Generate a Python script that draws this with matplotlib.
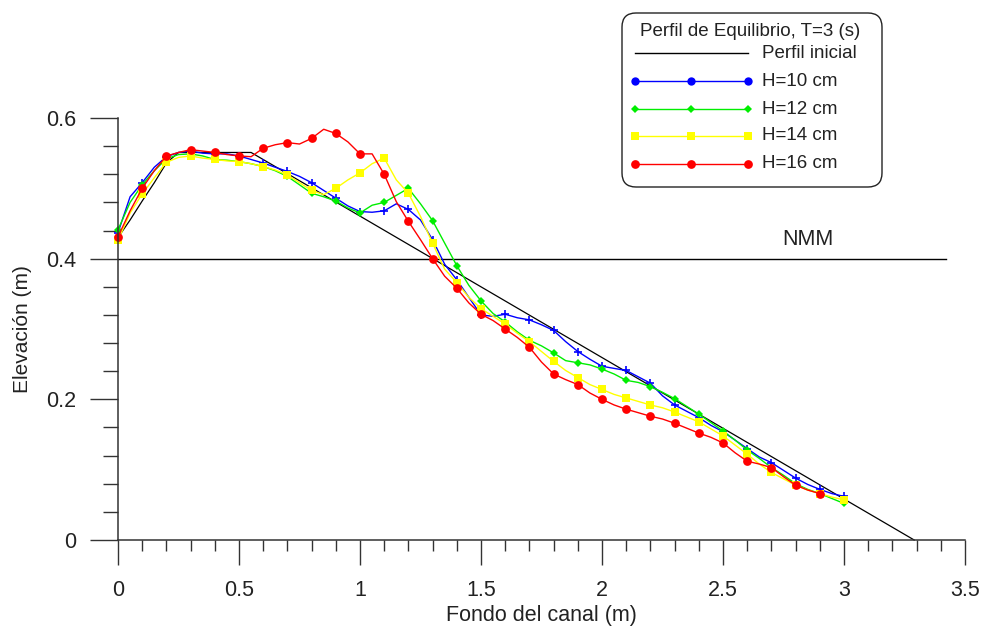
import matplotlib
matplotlib.use("Agg")
import matplotlib.pyplot as plt
from matplotlib.patches import FancyBboxPatch
from matplotlib.ticker import MultipleLocator, FixedLocator

plt.rcParams['font.family'] = ['Liberation Sans', 'DejaVu Sans']

# ---- data -------------------------------------------------------------
# initial beach profile
x_inicial = [0.0, 0.05, 0.10, 0.15, 0.20, 0.25, 0.55, 3.29]
y_inicial = [0.430, 0.455, 0.482, 0.508, 0.536, 0.551, 0.551, 0.0]

# still water level
nmm_level = 0.40
nmm_extent = [0.0, 3.42]

# measured equilibrium profiles (every 0.05 m)
x_h10 = [0.00, 0.05, 0.10, 0.15, 0.20, 0.25, 0.30, 0.35, 0.40, 0.45,
         0.50, 0.55, 0.60, 0.65, 0.70, 0.75, 0.80, 0.85, 0.90, 0.95,
         1.00, 1.05, 1.10, 1.15, 1.20, 1.25, 1.30, 1.35, 1.40, 1.45,
         1.50, 1.55, 1.60, 1.65, 1.70, 1.75, 1.80, 1.85, 1.90, 1.95,
         2.00, 2.05, 2.10, 2.15, 2.20, 2.25, 2.30, 2.35, 2.40, 2.45,
         2.50, 2.55, 2.60, 2.65, 2.70, 2.75, 2.80, 2.85, 2.90, 2.95, 3.00]
y_h10 = [0.437, 0.488, 0.508, 0.530, 0.545, 0.551, 0.553, 0.550, 0.549, 0.549,
         0.546, 0.541, 0.536, 0.530, 0.524, 0.517, 0.508, 0.497, 0.486, 0.475,
         0.467, 0.466, 0.468, 0.478, 0.470, 0.455, 0.427, 0.392, 0.370, 0.345,
         0.320, 0.318, 0.321, 0.316, 0.313, 0.306, 0.298, 0.282, 0.268, 0.257,
         0.247, 0.244, 0.241, 0.232, 0.223, 0.205, 0.192, 0.183, 0.174, 0.163,
         0.154, 0.142, 0.130, 0.118, 0.110, 0.099, 0.088, 0.079, 0.072, 0.066, 0.062]

x_h12 = list(x_h10)
y_h12 = [0.441, 0.480, 0.505, 0.525, 0.542, 0.548, 0.549, 0.546, 0.541, 0.540,
         0.538, 0.535, 0.531, 0.525, 0.517, 0.505, 0.493, 0.488, 0.482, 0.472,
         0.465, 0.476, 0.480, 0.490, 0.500, 0.478, 0.454, 0.422, 0.390, 0.362,
         0.340, 0.322, 0.310, 0.296, 0.284, 0.276, 0.266, 0.255, 0.252, 0.249,
         0.243, 0.236, 0.227, 0.224, 0.218, 0.210, 0.201, 0.190, 0.179, 0.167,
         0.155, 0.142, 0.128, 0.116, 0.103, 0.092, 0.080, 0.072, 0.066, 0.059, 0.052]

x_h14 = list(x_h10)
y_h14 = [0.426, 0.465, 0.492, 0.515, 0.537, 0.544, 0.546, 0.543, 0.541, 0.539,
         0.538, 0.535, 0.531, 0.526, 0.519, 0.508, 0.497, 0.491, 0.500, 0.512,
         0.522, 0.535, 0.543, 0.512, 0.493, 0.460, 0.422, 0.385, 0.366, 0.345,
         0.329, 0.318, 0.307, 0.294, 0.282, 0.268, 0.254, 0.241, 0.231, 0.221,
         0.214, 0.207, 0.202, 0.197, 0.192, 0.188, 0.182, 0.175, 0.168, 0.158,
         0.148, 0.135, 0.122, 0.108, 0.096, 0.087, 0.078, 0.071, 0.066, 0.061, 0.057]

x_h16 = x_h10[:59]
y_h16 = [0.431, 0.468, 0.500, 0.525, 0.546, 0.551, 0.555, 0.553, 0.551, 0.548,
         0.546, 0.545, 0.557, 0.562, 0.565, 0.563, 0.571, 0.584, 0.578, 0.566,
         0.549, 0.549, 0.520, 0.481, 0.453, 0.427, 0.400, 0.375, 0.358, 0.337,
         0.321, 0.312, 0.300, 0.288, 0.274, 0.253, 0.236, 0.228, 0.221, 0.209,
         0.200, 0.192, 0.186, 0.181, 0.176, 0.172, 0.166, 0.159, 0.152, 0.146,
         0.138, 0.124, 0.112, 0.108, 0.103, 0.090, 0.078, 0.071, 0.066]

legend_title = "Perfil de Equilibrio, T=3 (s)"
series_labels = ["H=10 cm", "H=12 cm", "H=14 cm", "H=16 cm"]
x_ticks = [0, 0.5, 1, 1.5, 2, 2.5, 3, 3.5]
x_ticklabels = ["0", "0.5", "1", "1.5", "2", "2.5", "3", "3.5"]
y_ticks = [0, 0.2, 0.4, 0.6]
y_ticklabels = ["0", "0.2", "0.4", "0.6"]

# ---- figure -----------------------------------------------------------
W, H = 983, 630
fig = plt.figure(figsize=(W / 100, H / 100), dpi=100)
fig.patch.set_facecolor("white")

x0, x1, ytop, ybot = 118, 965, 118, 540
ax = fig.add_axes([x0 / W, (H - ybot) / H, (x1 - x0) / W, (ybot - ytop) / H])
ax.set_xlim(0, 3.5)
ax.set_ylim(0, 0.6)
ax.patch.set_alpha(0)

txt = "#222222"
axc = "#333333"

for s in ("top", "right"):
    ax.spines[s].set_visible(False)
ax.spines["left"].set_bounds(0, 0.6)
ax.spines["bottom"].set_bounds(0, 3.5)
for s in ("left", "bottom"):
    ax.spines[s].set_linewidth(1.1)
    ax.spines[s].set_color(axc)

ax.xaxis.set_major_locator(FixedLocator(x_ticks))
ax.set_xticklabels(x_ticklabels)
ax.xaxis.set_minor_locator(MultipleLocator(0.1))
ax.yaxis.set_major_locator(FixedLocator(y_ticks))
ax.set_yticklabels(y_ticklabels)
ax.yaxis.set_minor_locator(MultipleLocator(0.04))

ax.tick_params(axis="x", which="major", direction="out", length=18, width=1.0,
               color=axc, pad=11, labelsize=15.5, labelcolor=txt)
ax.tick_params(axis="x", which="minor", direction="out", length=8, width=1.0, color=axc)
ax.tick_params(axis="y", which="major", direction="out", length=20, width=1.0,
               color=axc, pad=10, labelsize=15.5, labelcolor=txt)
ax.tick_params(axis="y", which="minor", direction="out", length=11, width=1.0, color=axc)

ax.set_xlabel("Fondo del canal (m)", fontsize=15.5, color=txt, labelpad=3)
ax.set_ylabel("Elevación (m)", fontsize=15, color=txt, labelpad=10)

# still water level and label
ax.plot(nmm_extent, [nmm_level, nmm_level], color="black", lw=1.0, clip_on=False)
ax.text(2.85, nmm_level + 0.012, "NMM", fontsize=15.5, color=txt, ha="center", va="bottom")

# initial profile
ax.plot(x_inicial, y_inicial, color="black", lw=0.9, clip_on=False)

# equilibrium profiles, marker every 0.1 m
ax.plot(x_h10, y_h10, color="#0000ff", lw=1.0, marker="+", ms=6, mew=1.2,
        markevery=2, clip_on=False)
ax.plot(x_h12, y_h12, color="#00ee00", lw=1.0, marker="D", ms=3.6, mew=0,
        markevery=2, clip_on=False)
ax.plot(x_h14, y_h14, color="#ffff00", lw=1.0, marker="s", ms=5.4, mew=0,
        markevery=2, clip_on=False)
ax.plot(x_h16, y_h16, color="#ff0000", lw=1.0, marker="o", ms=6.3, mew=0,
        markevery=2, clip_on=False)

# ---- legend box (pixel coordinates) ------------------------------------
lax = fig.add_axes([0, 0, 1, 1])
lax.set_xlim(0, W)
lax.set_ylim(H, 0)
lax.axis("off")
lax.patch.set_alpha(0)

box = FancyBboxPatch((622, 13), 260, 174,
                     boxstyle="round,pad=0,rounding_size=14",
                     facecolor="white", edgecolor="#222222", lw=1.0)
lax.add_patch(box)
lax.text(750, 31, legend_title, fontsize=13.5, color=txt, ha="center", va="center")

leg_x = [635, 691, 748]
rows = [53, 81, 109, 136, 164]
lax.plot([635, 748], [rows[0], rows[0]], color="black", lw=1.0)
lax.text(762, rows[0], "Perfil inicial", fontsize=13.5, color=txt, va="center")

styles = [
    dict(color="#0000ff", marker="o", ms=6, mew=0),
    dict(color="#00ee00", marker="D", ms=3.6, mew=0),
    dict(color="#ffff00", marker="s", ms=5.4, mew=0),
    dict(color="#ff0000", marker="o", ms=6.3, mew=0)
]
for lab, st, ry in zip(series_labels, styles, rows[1:]):
    lax.plot(leg_x, [ry] * 3, lw=1.0, **st)
    lax.text(762, ry, lab, fontsize=13.5, color=txt, va="center")

fig.savefig("out.png", dpi=100, facecolor="white")
